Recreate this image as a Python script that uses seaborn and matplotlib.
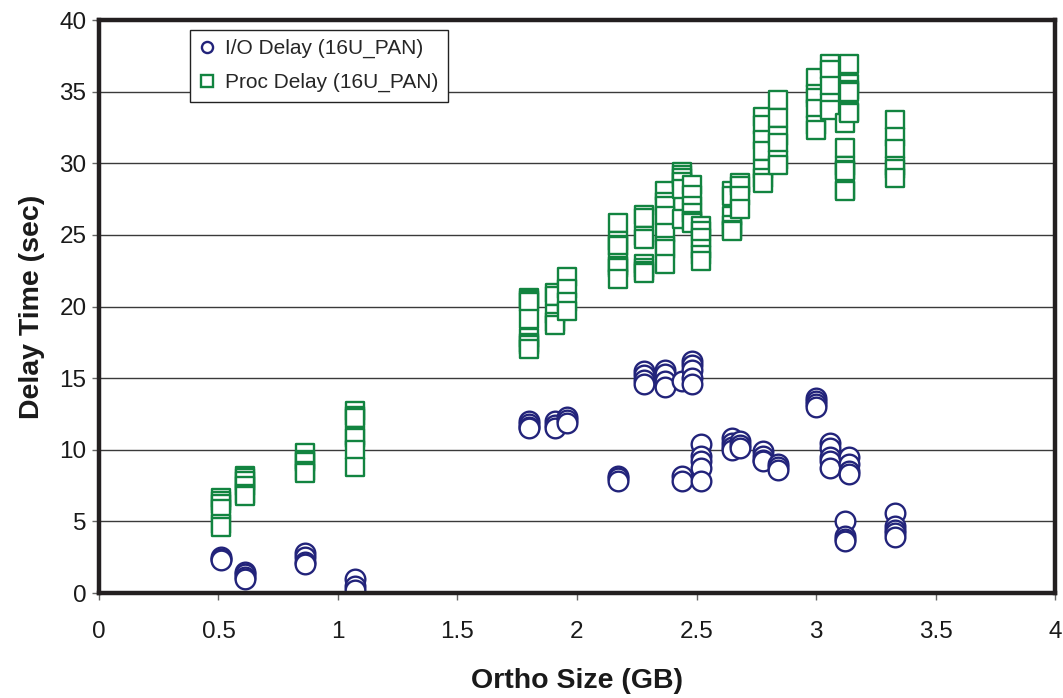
import matplotlib
matplotlib.use("Agg")
import matplotlib.pyplot as plt
from matplotlib.lines import Line2D
import seaborn as sns
import pandas as pd

# Ortho image sizes (GB) for each batch of runs
ortho_sizes = [0.51, 0.61, 0.86, 1.07, 1.80, 1.91, 1.96, 2.17, 2.28, 2.37, 2.44,
               2.48, 2.52, 2.65, 2.68, 2.78, 2.84, 3.00, 3.06, 3.12, 3.14, 3.33]

# I/O delay (sec) measured for each run, grouped by ortho size
io_delay = [
    [2.5, 2.4, 2.3],
    [1.5, 1.3, 1.1, 0.95],
    [2.8, 2.5, 2.2, 2.0],
    [1.0, 0.5, 0.2],
    [12.0, 11.8, 11.6, 11.5],
    [12.0, 11.7, 11.5],
    [12.3, 12.1, 11.9],
    [8.2, 8.0, 7.8],
    [15.5, 15.2, 14.9, 14.6],
    [15.6, 15.3, 14.8, 14.4],
    [14.8, 8.2, 7.8],
    [16.2, 15.9, 15.6, 15.0, 14.6],
    [10.4, 9.6, 9.2, 8.7, 7.8],
    [10.8, 10.5, 10.2, 10.0],
    [10.6, 10.3, 10.1],
    [9.9, 9.6, 9.3, 9.2],
    [9.0, 8.8, 8.6],
    [13.6, 13.4, 13.2, 13.0],
    [10.5, 10.1, 9.5, 9.2, 8.7],
    [5.0, 4.0, 3.8, 3.6],
    [9.5, 9.0, 8.5, 8.3],
    [5.6, 4.7, 4.4, 4.2, 3.9],
]

# Processing delay (sec) measured for each run, grouped by ortho size
proc_delay = [
    [6.6, 6.4, 6.2, 5.9, 4.8, 4.6],
    [8.2, 8.0, 7.85, 7.5, 6.9, 6.75],
    [9.8, 9.3, 9.15, 8.5, 8.4],
    [12.7, 12.35, 12.2, 10.95, 10.8, 10.0, 8.8],
    [20.6, 20.45, 20.3, 19.1, 17.8, 17.45, 17.3, 17.05],
    [20.95, 20.7, 19.45, 18.9, 18.7],
    [22.05, 21.2, 20.3, 19.7],
    [25.8, 24.55, 24.3, 24.2, 23.05, 22.8, 22.7, 21.95],
    [26.4, 26.2, 24.9, 24.7, 23.0, 22.7, 22.5, 22.35],
    [28.05, 27.3, 27.0, 26.3, 25.1, 24.2, 24.0, 23.0],
    [29.4, 29.2, 29.0, 28.7, 28.2, 26.1],
    [28.5, 27.8, 27.0, 26.5, 26.0, 25.8],
    [25.6, 25.3, 24.8, 24.0, 23.6, 23.2],
    [28.05, 27.7, 26.3, 25.7, 25.35, 25.3],
    [28.6, 28.4, 27.7, 26.8],
    [33.2, 32.7, 31.65, 30.85, 29.6, 29.0, 28.6],
    [34.45, 33.15, 31.9, 31.4, 30.25, 29.85],
    [35.95, 34.85, 34.55, 33.8, 32.7, 32.35],
    [36.95, 36.5, 35.4, 34.2, 33.7],
    [32.8, 31.1, 29.8, 29.55, 29.45, 28.15, 28.05],
    [36.95, 35.5, 35.15, 35.0, 33.6, 33.5],
    [33.05, 31.8, 31.0, 29.8, 29.6, 29.0],
]

series_names = ["I/O Delay (16U_PAN)", "Proc Delay (16U_PAN)"]
x_ticks = [0, 0.5, 1, 1.5, 2, 2.5, 3, 3.5, 4]
y_ticks = [0, 5, 10, 15, 20, 25, 30, 35, 40]

io_color = "#22237a"
proc_color = "#128440"


def long_form(values):
    rows = []
    for size, runs in zip(ortho_sizes, values):
        for v in runs:
            rows.append({"size": size, "delay": v})
    return pd.DataFrame(rows)


io_df = long_form(io_delay)
proc_df = long_form(proc_delay)

sns.set_theme(style="white")
plt.rcParams["font.family"] = ["Liberation Sans", "DejaVu Sans"]

fig = plt.figure(figsize=(10.63, 6.98), dpi=100)
ax = fig.add_axes([0.0931, 0.1504, 0.8994, 0.8209])

sns.scatterplot(data=io_df, x="size", y="delay", ax=ax, marker="o", s=200,
                facecolor="white", edgecolor=io_color, linewidth=1.7,
                zorder=3, legend=False)
sns.scatterplot(data=proc_df, x="size", y="delay", ax=ax, marker="s", s=180,
                facecolor="white", edgecolor=proc_color, linewidth=1.7,
                zorder=3, legend=False)

ax.set_xlim(0, 4)
ax.set_ylim(0, 40)
ax.set_xticks(x_ticks)
ax.set_xticklabels([f"{t:g}" for t in x_ticks])
ax.set_yticks(y_ticks)
ax.set_yticklabels([f"{t:g}" for t in y_ticks])

ax.yaxis.grid(True, color="#3a3a3a", linewidth=1.0)
ax.xaxis.grid(False)
ax.set_axisbelow(True)

for side in ["left", "right", "top", "bottom"]:
    ax.spines[side].set_visible(True)
    ax.spines[side].set_color("#231f20")
    ax.spines[side].set_linewidth(3.2)
    ax.spines[side].set_zorder(4)

ax.tick_params(axis="both", which="major", direction="out", length=5,
               width=1, color="#666666", labelsize=17.5, labelcolor="#1a1a1a",
               bottom=True, left=True)
ax.tick_params(axis="x", pad=15)
ax.tick_params(axis="y", pad=4)

ax.set_xlabel("Ortho Size (GB)", fontsize=20.5, fontweight="bold",
              color="#1a1a1a", labelpad=18)
ax.set_ylabel("Delay Time (sec)", fontsize=20.5, fontweight="bold",
              color="#1a1a1a", labelpad=10)

handles = [
    Line2D([], [], linestyle="none", marker="o", markersize=8,
           markerfacecolor="white", markeredgecolor=io_color,
           markeredgewidth=1.7),
    Line2D([], [], linestyle="none", marker="s", markersize=8,
           markerfacecolor="white", markeredgecolor=proc_color,
           markeredgewidth=1.7),
]
leg = ax.legend(handles, series_names, loc="upper left",
                bbox_to_anchor=(0.095, 0.983), fontsize=15, frameon=True,
                fancybox=False, shadow=False, framealpha=1,
                edgecolor="#222222", handlelength=0.8, handletextpad=0.45,
                borderpad=0.45, labelspacing=0.7, borderaxespad=0)
leg.get_frame().set_linewidth(1.0)
leg.set_zorder(5)

fig.savefig("out.png", dpi=100, facecolor="white")
